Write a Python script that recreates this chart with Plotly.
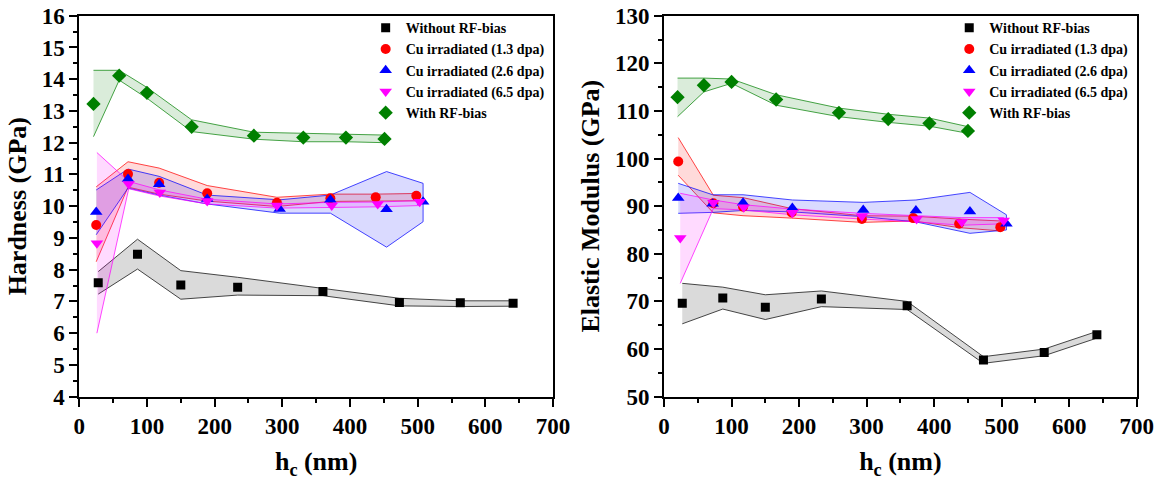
import plotly.graph_objects as go

# ---------------- Data: Hardness (left panel) ----------------
names = ["Without RF-bias", "Cu irradiated (1.3 dpa)", "Cu irradiated (2.6 dpa)",
         "Cu irradiated (6.5 dpa)", "With RF-bias"]

h_black_x = [28, 86, 150, 234, 360, 473, 563, 641]
h_black_y = [7.59, 8.49, 7.52, 7.45, 7.31, 6.97, 6.96, 6.94]
h_black_up = [7.94, 8.96, 7.97, 7.76, 7.41, 7.10, 7.02, 7.02]
h_black_lo = [7.23, 8.02, 7.07, 7.20, 7.18, 6.86, 6.84, 6.85]

h_red_x = [25, 72, 118, 189, 292, 371, 438, 498]
h_red_y = [9.41, 11.01, 10.74, 10.41, 10.11, 10.25, 10.28, 10.33]
h_red_up = [10.61, 11.40, 11.20, 10.65, 10.28, 10.38, 10.38, 10.40]
h_red_lo = [8.25, 10.60, 10.38, 10.16, 9.99, 10.15, 10.15, 10.17]

h_blue_x = [25, 72, 118, 189, 296, 371, 454, 508]
h_blue_y = [9.82, 10.86, 10.69, 10.23, 9.91, 10.20, 9.90, 10.14]
h_blue_up = [10.51, 11.17, 10.94, 10.35, 10.20, 10.35, 11.09, 10.72]
h_blue_lo = [9.10, 10.57, 10.35, 10.07, 9.78, 9.78, 8.71, 9.51]

h_mag_x = [26, 73, 119, 189, 292, 373, 441, 503]
h_mag_y = [8.83, 10.70, 10.43, 10.16, 10.02, 10.02, 10.07, 10.14]
h_mag_up = [11.69, 10.78, 10.51, 10.22, 10.07, 10.12, 10.13, 10.18]
h_mag_lo = [6.00, 10.55, 10.32, 10.07, 9.94, 9.96, 9.98, 10.02]

h_green_x = [21, 59, 100, 166, 258, 331, 394, 451]
h_green_y = [13.22, 14.11, 13.57, 12.50, 12.22, 12.16, 12.16, 12.12]
h_green_up = [14.28, 14.28, 13.74, 12.72, 12.33, 12.30, 12.26, 12.24]
h_green_lo = [12.19, 13.97, 13.40, 12.35, 12.11, 12.03, 12.03, 12.00]

# ---------------- Data: Elastic modulus (right panel) ----------------
e_black_x = [27, 87, 150, 233, 360, 473, 563, 641]
e_black_y = [69.6, 70.7, 68.8, 70.5, 69.1, 57.7, 59.3, 63.0]
e_black_up = [73.8, 73.0, 71.4, 72.2, 70.0, 58.4, 60.0, 63.7]
e_black_lo = [65.3, 68.4, 66.2, 68.9, 68.3, 57.0, 58.6, 62.3]

e_red_x = [21, 73, 117, 189, 293, 369, 437, 498]
e_red_y = [99.4, 90.6, 89.9, 88.7, 87.3, 87.5, 86.3, 85.6]
e_red_up = [104.4, 92.3, 91.8, 89.5, 88.0, 87.9, 87.3, 86.9]
e_red_lo = [96.5, 88.6, 88.0, 87.5, 86.6, 86.9, 85.5, 84.8]

e_blue_x = [21, 72, 117, 190, 295, 373, 453, 507]
e_blue_y = [91.7, 90.5, 90.7, 89.6, 89.2, 89.1, 88.9, 86.3]
e_blue_up = [94.8, 92.4, 92.4, 91.3, 90.8, 91.3, 92.9, 88.2]
e_blue_lo = [88.5, 88.7, 89.1, 88.8, 87.8, 86.7, 84.3, 85.0]

e_mag_x = [24, 73, 118, 190, 293, 374, 441, 503]
e_mag_y = [83.3, 90.7, 89.8, 88.6, 87.9, 87.3, 86.7, 87.0]
e_mag_up = [92.7, 91.3, 90.3, 89.4, 88.5, 88.0, 87.6, 87.6]
e_mag_lo = [73.8, 89.5, 89.2, 88.2, 87.3, 86.7, 86.0, 86.3]

e_green_x = [20, 59, 100, 166, 259, 332, 393, 450]
e_green_y = [112.9, 115.4, 116.1, 112.4, 109.6, 108.3, 107.4, 105.8]
e_green_up = [116.9, 116.9, 116.7, 113.4, 110.6, 109.3, 108.5, 106.7]
e_green_lo = [108.8, 114.0, 115.8, 111.2, 108.8, 107.6, 106.8, 105.3]

# ---------------- Styles ----------------
colors = ["#000000", "#FF0000", "#0000FF", "#FF00FF", "#008000"]
fills = ["rgba(0,0,0,0.16)", "rgba(255,0,0,0.16)", "rgba(0,0,255,0.16)",
         "rgba(255,0,255,0.16)", "rgba(0,128,0,0.16)"]
symbols = ["square", "circle", "triangle-up", "triangle-down", "diamond"]
sizes = [9, 10, 11, 11, 11]

left = [
    (h_black_x, h_black_y, h_black_up, h_black_lo),
    (h_red_x, h_red_y, h_red_up, h_red_lo),
    (h_blue_x, h_blue_y, h_blue_up, h_blue_lo),
    (h_mag_x, h_mag_y, h_mag_up, h_mag_lo),
    (h_green_x, h_green_y, h_green_up, h_green_lo),
]
right = [
    (e_black_x, e_black_y, e_black_up, e_black_lo),
    (e_red_x, e_red_y, e_red_up, e_red_lo),
    (e_blue_x, e_blue_y, e_blue_up, e_blue_lo),
    (e_mag_x, e_mag_y, e_mag_up, e_mag_lo),
    (e_green_x, e_green_y, e_green_up, e_green_lo),
]

fig = go.Figure()

for panel, (xa, ya, leg) in zip([left, right], [("x", "y", "legend"), ("x2", "y2", "legend2")]):
    # bands
    for i, (x, y, up, lo) in enumerate(panel):
        fig.add_trace(go.Scatter(
            x=list(x) + list(x)[::-1], y=list(up) + list(lo)[::-1],
            fill="toself", fillcolor=fills[i], mode="lines",
            line=dict(color=colors[i], width=0.8),
            opacity=0.9, showlegend=False, hoverinfo="skip", xaxis=xa, yaxis=ya))
    # markers
    for i, (x, y, up, lo) in enumerate(panel):
        fig.add_trace(go.Scatter(
            x=x, y=y, mode="markers", name=names[i],
            marker=dict(symbol=symbols[i], color=colors[i], size=sizes[i], line=dict(width=0)),
            legend=leg, legendgroup=f"{leg}{i}", xaxis=xa, yaxis=ya))

serif = "Liberation Serif, Times New Roman, serif"
tickfont = dict(family=serif, size=23, color="black", weight="bold")
titlefont = dict(family=serif, size=26, color="black", weight="bold")


def xaxis_cfg(domain, anchor):
    return dict(domain=domain, anchor=anchor, range=[0, 700], dtick=100, tick0=0,
                ticks="outside", ticklen=8, tickwidth=2, tickcolor="black",
                minor=dict(dtick=50, ticks="outside", ticklen=4, tickwidth=2, tickcolor="black"),
                showline=True, linewidth=2, linecolor="black", mirror=True,
                showgrid=False, zeroline=False, tickfont=tickfont, automargin=False,
                title=dict(text="h<sub>c</sub> (nm)", font=titlefont, standoff=14))


def yaxis_cfg(domain, anchor, rng, dt, mdt, title):
    return dict(domain=domain, anchor=anchor, range=rng, dtick=dt, tick0=rng[0],
                ticks="outside", ticklen=8, tickwidth=2, tickcolor="black",
                minor=dict(dtick=mdt, ticks="outside", ticklen=4, tickwidth=2, tickcolor="black"),
                showline=True, linewidth=2, linecolor="black", mirror=True,
                showgrid=False, zeroline=False, tickfont=tickfont, automargin=False,
                title=dict(text=title, font=titlefont, standoff=8))


ydom = [0.1888, 0.9679]
legfont = dict(family=serif, size=14, color="black", weight="bold")
fig.update_layout(
    template="none",
    width=1166, height=489,
    margin=dict(l=0, r=0, t=0, b=0),
    paper_bgcolor="white", plot_bgcolor="white",
    xaxis=xaxis_cfg([0.0680, 0.4743], "y"),
    yaxis=yaxis_cfg(ydom, "x", [4, 16], 1, 0.5, "Hardness (GPa)"),
    xaxis2=xaxis_cfg([0.5695, 0.9749], "y2"),
    yaxis2=yaxis_cfg(ydom, "x2", [50, 130], 10, 5, "Elastic Modulus (GPa)"),
    legend=dict(x=0.3136, y=0.975, xanchor="left", yanchor="top", font=legfont,
                bgcolor="rgba(0,0,0,0)", tracegroupgap=0),
    legend2=dict(x=0.8141, y=0.975, xanchor="left", yanchor="top", font=legfont,
                 bgcolor="rgba(0,0,0,0)", tracegroupgap=0),
    showlegend=True,
)

fig.write_html("out.html")
